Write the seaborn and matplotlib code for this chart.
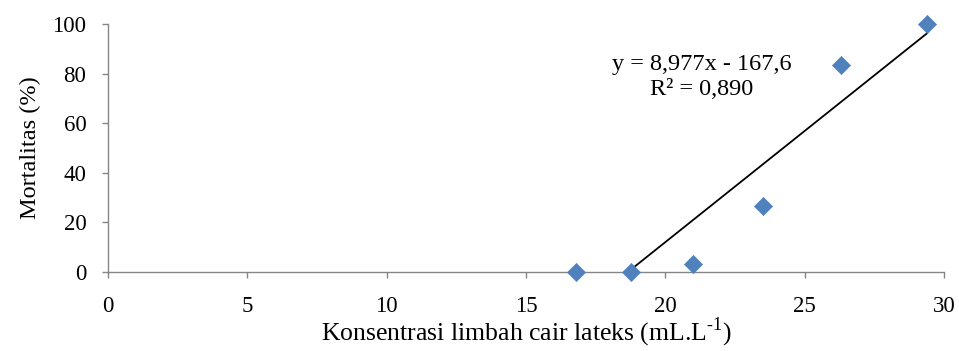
import matplotlib
matplotlib.use("Agg")
import matplotlib.pyplot as plt
import seaborn as sns
import pandas as pd
import numpy as np

# Concentration of latex liquid waste vs. mortality
konsentrasi = [16.8, 18.75, 21.0, 23.5, 26.3, 29.4]
mortalitas = [0.0, 0.0, 3.3, 26.7, 83.3, 100.0]

# Linear trend line as reported
slope = 8.977
intercept = -167.6
r_squared = "0,890"

x_ticks = [0, 5, 10, 15, 20, 25, 30]
y_ticks = [0, 20, 40, 60, 80, 100]

sns.set_theme(style="white")
plt.rcParams["font.family"] = ["Liberation Serif", "DejaVu Serif"]
plt.rcParams["mathtext.fontset"] = "custom"
plt.rcParams["mathtext.rm"] = "Liberation Serif"

df = pd.DataFrame({"x": konsentrasi, "y": mortalitas})

fig = plt.figure(figsize=(9.59, 3.51), dpi=100)
ax = fig.add_axes([108 / 959, 79.3 / 351, (944 - 108) / 959, (271.7 - 24) / 351])

sns.scatterplot(data=df, x="x", y="y", ax=ax, marker="D", s=85,
                color="#4F81BD", edgecolor="#4F81BD", linewidth=0.5, zorder=3,
                clip_on=False)

xs = np.array([min(konsentrasi), max(konsentrasi)])
ax.plot(xs, slope * xs + intercept, color="black", lw=1.3, zorder=2)

ax.set_xlim(0, 30)
ax.set_ylim(0, 100)
ax.set_xticks(x_ticks)
ax.set_yticks(y_ticks)
ax.tick_params(axis="both", labelsize=16.5, colors="#868686", length=4.5, width=1,
               direction="out", labelcolor="black", bottom=True, left=True)
ax.tick_params(axis="x", pad=13)
ax.tick_params(axis="y", pad=11)

for side in ["top", "right"]:
    ax.spines[side].set_visible(False)
for side in ["left", "bottom"]:
    ax.spines[side].set_color("#868686")
    ax.spines[side].set_linewidth(1)

ax.set_xlabel(r"Konsentrasi limbah cair lateks (mL.L$^{\text{-1}}$)",
              fontsize=18.5, color="black", labelpad=-1)
ax.set_ylabel("Mortalitas (%)", fontsize=17.5, color="black", labelpad=8)

ax.text(21.3, 78.5, f"y = {slope:.3f}x - {abs(intercept):.1f}".replace(".", ",")
        + f"\nR\u00b2 = {r_squared}",
        ha="center", va="center", fontsize=17.5, color="black", linespacing=1.25)

fig.savefig("out.png", dpi=100)
